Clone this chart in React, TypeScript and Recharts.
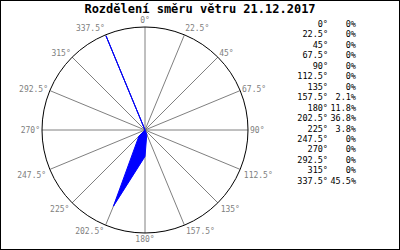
import React from "react";
import {
	PolarAngleAxis,
	PolarGrid,
	PolarRadiusAxis,
	Radar,
	RadarChart,
} from "recharts";

// wind directions (deg) and share of measurements (%)
const directions = [0, 22.5, 45, 67.5, 90, 112.5, 135, 157.5, 180, 202.5, 225, 247.5, 270, 292.5, 315, 337.5];
const shares = [0, 0, 0, 0, 0, 0, 0, 2.1, 11.8, 36.8, 3.8, 0, 0, 0, 0, 45.5];
const title = "Rozdělení směru větru 21.12.2017";

const data = directions.map((d, i) => ({ dir: `${d}°`, pct: shares[i] }));

const mono = "'DejaVu Sans Mono', 'Liberation Mono', monospace";
const CX = 145;
const CY = 130;
const R = 103;

// labels sit just outside the circle, box touching the spoke end
function DirTick(props: any) {
	const { payload } = props;
	const a = (payload.coordinate * Math.PI) / 180;
	const c = Math.cos(a);
	const s = Math.sin(a);
	const px = CX + R * c;
	const py = CY - R * s;
	let dx = 0;
	let dy = 0;
	if (s > 0.01) {
		dx = 2 * c;
		dy = -7 * s * s;
	} else if (s < -0.01) {
		dx = 4 * c;
		dy = 6.5;
	} else {
		dx = 2 * c;
	}
	const anchor = c > 0.01 ? "start" : c < -0.01 ? "end" : "middle";
	return (
		<text
			x={px + dx}
			y={py + dy}
			textAnchor={anchor}
			dominantBaseline="central"
			fill="#808080"
			fontSize={8}
			fontFamily={mono}
		>
			{payload.value}
		</text>
	);
}

export default function App() {
	return (
		<div
			style={{
				position: "absolute",
				left: 0,
				top: 0,
				width: 400,
				height: 250,
				boxSizing: "border-box",
				border: "1px solid #000",
				background: "#fff",
				fontFamily: mono,
			}}
		>
			<div
				style={{
					position: "absolute",
					top: 1,
					left: 0,
					width: 398,
					textAlign: "center",
					fontWeight: "bold",
					fontSize: 12,
					lineHeight: "14px",
				}}
			>
				{title}
			</div>
			<div style={{ position: "absolute", left: -1, top: -1 }}>
				<RadarChart
					width={400}
					height={250}
					data={data}
					cx={CX}
					cy={CY}
					outerRadius={R}
					margin={{ top: 0, right: 0, bottom: 0, left: 0 }}
				>
					<PolarGrid gridType="circle" polarRadius={[]} stroke="#808080" />
					<PolarAngleAxis
						dataKey="dir"
						axisLineType="circle"
						axisLine={{ stroke: "#000" }}
						tickLine={false}
						tick={<DirTick />}
					/>
					<PolarRadiusAxis domain={[0, "dataMax"]} tick={false} axisLine={false} />
					<Radar
						dataKey="pct"
						stroke="#0000ff"
						fill="#0000ff"
						fillOpacity={1}
						isAnimationActive={false}
					/>
				</RadarChart>
			</div>
			<div style={{ position: "absolute", left: 289, top: 18, fontSize: 8.5, lineHeight: "10.45px" }}>
				{directions.map((d, i) => (
					<div key={d} style={{ display: "flex" }}>
						<span style={{ width: 38, textAlign: "right" }}>{`${d}°`}</span>
						<span style={{ width: 28, textAlign: "right" }}>{`${shares[i]}%`}</span>
					</div>
				))}
			</div>
		</div>
	);
}
